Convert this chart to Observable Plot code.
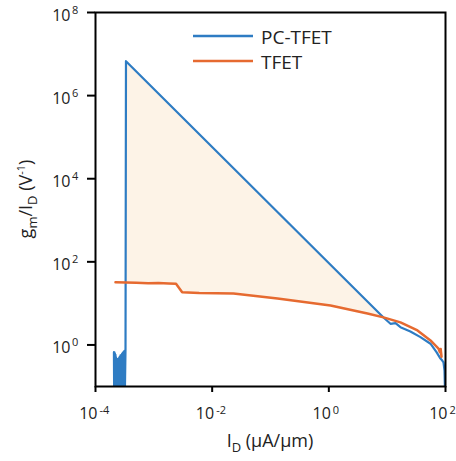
<!DOCTYPE html>
<html><head><meta charset="utf-8">
<script src="https://cdn.jsdelivr.net/npm/d3@7"></script>
<script src="https://cdn.jsdelivr.net/npm/@observablehq/plot@0.6"></script>
<style>
body{margin:0;background:#fff;font-family:"Open Sans",sans-serif}
#chart{position:relative;width:456px;height:461px}
</style>
</head><body><div id="chart"></div>
<script>
// PC-TFET (I_D in µA/µm, gm/ID in 1/V)
const pcX = [
  2.07e-4, 2.09e-4, 2.11e-4, 2.13e-4, 2.15e-4, 2.17e-4, 2.20e-4, 2.22e-4, 2.25e-4, 2.28e-4,
  2.31e-4, 2.34e-4, 2.37e-4, 2.40e-4, 2.44e-4, 2.48e-4, 2.52e-4, 2.56e-4, 2.60e-4, 2.64e-4,
  2.68e-4, 2.72e-4, 2.77e-4, 2.81e-4, 2.86e-4, 2.90e-4, 2.95e-4, 3.00e-4, 3.04e-4, 3.08e-4,
  3.13e-4, 3.18e-4, 3.27e-4, 3.33e-4,
  8.65, 11.4, 13.9, 16.9, 25, 37.2, 55.3, 70.1, 82, 88, 92.4, 96.2, 98.5
];
const pcY = [
  0.67, 0.06, 0.66, 0.06, 0.62, 0.06, 0.58, 0.06, 0.50, 0.06,
  0.43, 0.06, 0.44, 0.06, 0.46, 0.06, 0.48, 0.06, 0.52, 0.06,
  0.56, 0.06, 0.58, 0.06, 0.62, 0.06, 0.65, 0.06, 0.68, 0.06,
  0.72, 0.06, 0.80, 6.73e6,
  4.58, 3.23, 3.34, 2.68, 2.11, 1.54, 1.07, 0.67, 0.47, 0.42, 0.38, 0.24, 0.06
];
// TFET
const tfX = [2.2e-4, 3.33e-4, 5e-4, 8e-4, 1.2e-3, 1.8e-3, 2.4e-3, 3.06e-3, 6e-3, 0.0232, 0.132, 1.07, 4.6, 8.65, 16.9, 33.1, 55.3, 75.9, 80, 82.6, 85.5];
const tfY = [32.4, 31.8, 31.2, 30.4, 30.8, 30.0, 29.6, 18.6, 17.8, 17.3, 13.1, 8.9, 5.7, 4.6, 3.5, 2.23, 1.28, 0.82, 0.67, 0.8, 0.52];

const seriesNames = ["PC-TFET", "TFET"];
const seriesColors = ["#2e7cc3", "#e66a30"];
const fillColor = "#fdf3e7";

const xTicks = [1e-4, 1e-2, 1, 1e2];
const xTickExp = ["-4", "-2", "0", "2"];
const yTicks = [1, 1e2, 1e4, 1e6, 1e8];
const yTickExp = ["0", "2", "4", "6", "8"];

const pc = pcX.map((x, i) => ({x, y: pcY[i]}));
const tf = tfX.map((x, i) => ({x, y: tfY[i]}));

// shaded gain region: PC-TFET from its peak to where it meets TFET, back along TFET
const peakI = pcY.indexOf(d3.max(pcY));
let crossI = peakI + 1;
for (let i = peakI + 1; i < pc.length; i++) {
  const j = tfX.indexOf(pcX[i]);
  if (j >= 0 && tfY[j] >= pcY[i]) { crossI = i; break; }
}
const peakX = pcX[peakI], crossX = pcX[crossI];
const region = pc.slice(peakI, crossI + 1)
  .concat(tf.filter(d => d.x >= peakX && d.x <= crossX).reverse());

const plot = Plot.plot({
  width: 456,
  height: 461,
  marginLeft: 95,
  marginRight: 11,
  marginTop: 12,
  marginBottom: 75,
  style: {fontFamily: "Open Sans, sans-serif", fontSize: "16px", background: "white"},
  x: {type: "log", domain: [1e-4, 1e2], axis: null},
  y: {type: "log", domain: [0.1, 1e8], axis: null},
  marks: [
    Plot.line(region, {x: "x", y: "y", fill: fillColor, stroke: "none"}),
    Plot.line(pc, {x: "x", y: "y", stroke: seriesColors[0], strokeWidth: 2.2, clip: true}),
    Plot.line(tf, {x: "x", y: "y", stroke: seriesColors[1], strokeWidth: 2.5, clip: true}),
    Plot.frame({stroke: "black", strokeWidth: 2}),
    Plot.axisX(xTicks, {tickSize: 6, tickFormat: () => "", strokeWidth: 2, label: null}),
    Plot.axisY(yTicks, {tickSize: 8, tickFormat: () => "", strokeWidth: 2, label: null}),
    Plot.text(xTicks, {x: d => d, text: () => "10", frameAnchor: "bottom", textAnchor: "end", dx: 2, dy: 32, fontSize: 16, fill: "#222"}),
    Plot.text(xTicks, {x: d => d, text: (d, i) => xTickExp[i], frameAnchor: "bottom", textAnchor: "start", dx: 4, dy: 27, fontSize: 11, fill: "#222"}),
    Plot.text(yTicks, {y: d => d, text: () => "10", frameAnchor: "left", textAnchor: "end", dx: -25, dy: 3, fontSize: 16, fill: "#222"}),
    Plot.text(yTicks, {y: d => d, text: (d, i) => yTickExp[i], frameAnchor: "left", textAnchor: "start", dx: -23.5, dy: -2.5, fontSize: 11, fill: "#222"})
  ]
});

const svg = d3.select(plot);
// x title
const xt = svg.append("text").attr("x", 270).attr("y", 447).attr("text-anchor", "middle")
  .attr("font-size", 18).attr("fill", "#222");
xt.append("tspan").text("I");
xt.append("tspan").attr("font-size", 13).attr("dy", 5).text("D");
xt.append("tspan").attr("dy", -5).text(" (\u00b5A/\u00b5m)");
// y title
const yt = svg.append("text").attr("transform", "translate(32,199) rotate(-90)")
  .attr("text-anchor", "middle").attr("font-size", 18).attr("fill", "#222");
yt.append("tspan").text("g");
yt.append("tspan").attr("font-size", 13).attr("dy", 5).text("m");
yt.append("tspan").attr("dy", -5).text("/I");
yt.append("tspan").attr("font-size", 13).attr("dy", 5).text("D");
yt.append("tspan").attr("dy", -5).text(" (V");
yt.append("tspan").attr("font-size", 11).attr("dy", -7).text("-1");
yt.append("tspan").attr("dy", 7).text(")");
// legend
seriesNames.forEach((name, i) => {
  const y = 36 + i * 25;
  svg.append("line").attr("x1", 193).attr("x2", 253).attr("y1", y).attr("y2", y)
    .attr("stroke", seriesColors[i]).attr("stroke-width", 2.6);
  svg.append("text").attr("x", 261).attr("y", y + 7.5).attr("font-size", 19)
    .attr("text-anchor", "start").attr("fill", "#222").text(name);
});

document.getElementById("chart").appendChild(plot);
</script>
</body></html>
